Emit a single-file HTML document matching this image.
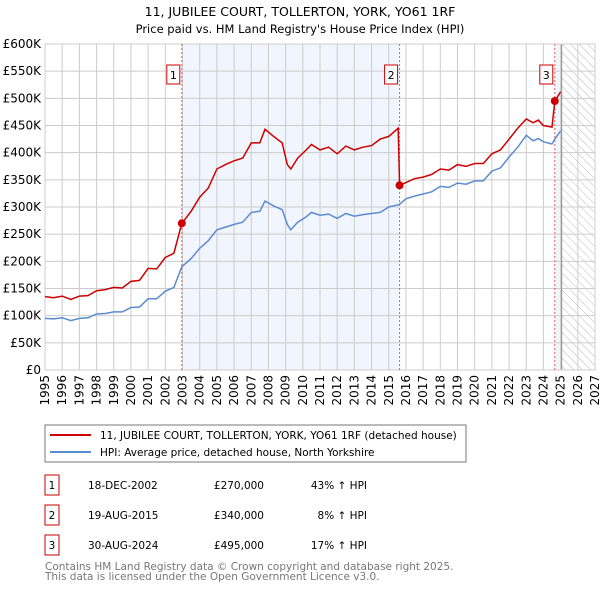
<!DOCTYPE html>
<html><head><meta charset="utf-8"><style>
body{margin:0;background:#fff;font-family:"DejaVu Sans","Liberation Sans",sans-serif;}
svg text{font-family:"DejaVu Sans","Liberation Sans",sans-serif;}
</style></head><body>
<svg id="c" width="600" height="590" viewBox="0 0 600 590" xmlns="http://www.w3.org/2000/svg">
<defs><pattern id="hatch" width="6" height="6" patternUnits="userSpaceOnUse" patternTransform="rotate(-45)"><line x1="0" y1="0" x2="0" y2="6" stroke="#bbb" stroke-width="1"/></pattern></defs>
<text x="300" y="16" text-anchor="middle" font-size="12.5">11, JUBILEE COURT, TOLLERTON, YORK, YO61 1RF</text>
<text x="300" y="33" text-anchor="middle" font-size="11.5">Price paid vs. HM Land Registry's House Price Index (HPI)</text>
<g id="plot"></g>
<rect x="45" y="425" width="421" height="37" fill="#fff" stroke="#777"/>
<line x1="50" y1="435" x2="91" y2="435" stroke="#cc0000" stroke-width="2"/>
<text x="100" y="439" font-size="10.5">11, JUBILEE COURT, TOLLERTON, YORK, YO61 1RF (detached house)</text>
<line x1="50" y1="452" x2="91" y2="452" stroke="#5b8bd0" stroke-width="2"/>
<text x="100" y="456" font-size="10.5">HPI: Average price, detached house, North Yorkshire</text>
<g id="tbl" font-size="10.5"></g>
<text x="45" y="570" font-size="10.5" fill="#777">Contains HM Land Registry data © Crown copyright and database right 2025.</text>
<text x="45" y="580" font-size="10.5" fill="#777">This data is licensed under the Open Government Licence v3.0.</text>
</svg>
<script>
const hpiDates=[1995,1995.5,1996,1996.5,1997,1997.5,1998,1998.5,1999,1999.5,2000,2000.5,2001,2001.5,2002,2002.5,2002.96,2003.5,2004,2004.5,2005,2005.5,2006,2006.5,2007,2007.5,2007.8,2008.3,2008.8,2009.1,2009.3,2009.7,2010.2,2010.5,2011,2011.5,2012,2012.5,2013,2013.5,2014,2014.5,2015,2015.55,2015.63,2016,2016.5,2017,2017.5,2018,2018.5,2019,2019.5,2020,2020.5,2021,2021.5,2022,2022.5,2023,2023.4,2023.7,2024,2024.5,2024.66,2025];
const hpiValues=[95,94,96,91,95,96,103,104,107,107,115,116,131,131,145,152,190,205,224,238,258,263,268,272,290,292,311,302,295,268,258,272,282,290,285,287,279,288,283,286,288,290,300,304,305,315,320,324,328,338,336,344,342,348,348,366,372,392,410,432,422,426,420,416,425,440];
const priceValues=[135,133,136,130,136,137,146,148,152,151,163,165,187,186,207,215,270,292,318,335,370,378,385,390,418,418,443,430,418,378,370,390,405,415,405,410,398,412,405,410,413,425,430,445,340,345,352,355,360,370,368,378,375,380,380,398,405,425,445,462,455,460,450,447,495,512];
const saleDates=[2002.96,2015.63,2024.66];
const salePrices=[270,340,495];
const saleLabels=["1","2","3"];
const saleDateText=["18-DEC-2002","19-AUG-2015","30-AUG-2024"];
const salePriceText=["£270,000","£340,000","£495,000"];
const saleHpiText=["43% ↑ HPI","8% ↑ HPI","17% ↑ HPI"];
const yTicks=[0,50,100,150,200,250,300,350,400,450,500,550,600];
const yTickLabels=["£0","£50K","£100K","£150K","£200K","£250K","£300K","£350K","£400K","£450K","£500K","£550K","£600K"];
const xTicks=[1995,1996,1997,1998,1999,2000,2001,2002,2003,2004,2005,2006,2007,2008,2009,2010,2011,2012,2013,2014,2015,2016,2017,2018,2019,2020,2021,2022,2023,2024,2025,2026,2027];
const dataEnd=2025.06;

const L=45,R=595,T=44,B=370,x0=1995,x1=2027,yMax=600;
const X=d=>L+(d-x0)/(x1-x0)*(R-L);
const Y=v=>B-v/yMax*(B-T);
const NS="http://www.w3.org/2000/svg";
const plot=document.getElementById('plot');
function mk(tag,attrs,parent){const e=document.createElementNS(NS,tag);for(const k in attrs)e.setAttribute(k,attrs[k]);(parent||plot).appendChild(e);return e;}
let r;
r=mk('rect',{x:X(saleDates[0]),y:T,width:X(saleDates[1])-X(saleDates[0]),height:B-T,fill:'#eef3fc',opacity:0.8});


r=mk('rect',{x:X(saleDates[2]),y:T,width:X(dataEnd)-X(saleDates[2]),height:B-T,fill:'#eef3fc',opacity:0.8});


r=mk('rect',{x:X(dataEnd),y:T,width:R-X(dataEnd),height:B-T,fill:'url(#hatch)'});


yTicks.forEach((v,i)=>{
 let l=mk('line',{x1:L,x2:R,y1:Y(v),y2:Y(v),stroke:'#ccc'});
 
 
 let t=mk('text',{x:L-4,y:Y(v)+4,'text-anchor':'end','font-size':12});
 t.textContent=yTickLabels[i];
 
 
});
xTicks.forEach(d=>{
 let l=mk('line',{x1:X(d),x2:X(d),y1:T,y2:B,stroke:'#ccc'});
 
 
 let t=mk('text',{x:0,y:0,'font-size':12,'text-anchor':'end',transform:`translate(${X(d)+4},${B+5}) rotate(-90)`});
 t.textContent=d;
 
 
});
let bl=mk('line',{x1:X(dataEnd),x2:X(dataEnd),y1:T,y2:B,stroke:'#888'});


let fr=mk('rect',{x:L,y:T,width:R-L,height:B-T,fill:'none',stroke:'#ccc'});


saleDates.forEach((d,i)=>{
 let l=mk('line',{x1:X(d),x2:X(d),y1:T,y2:B,stroke:'#e06060','stroke-dasharray':'2,2'});
 
 
});
const pts=(vals)=>hpiDates.map((d,i)=>X(d).toFixed(1)+','+Y(vals[i]).toFixed(1)).join(' ');
let hp=mk('polyline',{points:pts(hpiValues),fill:'none',stroke:'#5b8bd0','stroke-width':1.5});


let pp=mk('polyline',{points:pts(priceValues),fill:'none',stroke:'#cc0000','stroke-width':1.5});


saleDates.forEach((d,i)=>{
 let c=mk('circle',{cx:X(d),cy:Y(salePrices[i]),r:4,fill:'#cc0000'});
 
 
 let g=mk('g',{});
 
 
 mk('rect',{x:X(d)-15,y:65,width:13,height:19,fill:'#fff',stroke:'#cc0000'},g);
 let t=mk('text',{x:X(d)-8.5,y:79,'text-anchor':'middle','font-size':11},g);
 t.textContent=saleLabels[i];
});
const tbl=document.getElementById('tbl');
saleDates.forEach((d,i)=>{
 const y=475+i*30;
 const g=mk('g',{},tbl);
 
 
 mk('rect',{x:45,y:y,width:14,height:20,fill:'#fff',stroke:'#cc0000'},g);
 let t=mk('text',{x:52,y:y+14,'text-anchor':'middle'},g);t.textContent=saleLabels[i];
 t=mk('text',{x:88,y:y+14},g);t.textContent=saleDateText[i];
 t=mk('text',{x:264,y:y+14,'text-anchor':'end'},g);t.textContent=salePriceText[i];
 t=mk('text',{x:367,y:y+14,'text-anchor':'end'},g);t.textContent=saleHpiText[i];
});
</script>
</body></html>
